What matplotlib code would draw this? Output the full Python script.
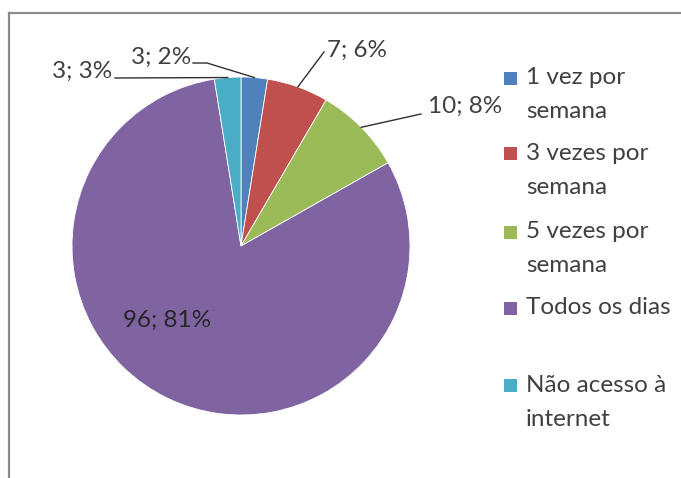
import matplotlib.pyplot as plt
from matplotlib.lines import Line2D
from matplotlib.patches import Rectangle
import numpy as np

# values
categories = ["1 vez por\nsemana", "3 vezes por\nsemana", "5 vezes por\nsemana",
              "Todos os dias", "Não acesso à\ninternet"]
counts = [3, 7, 10, 96, 3]
percent_labels = ["2%", "6%", "8%", "81%", "3%"]
colors = ["#4F81BD", "#C0504D", "#9BBB59", "#8064A2", "#4BACC6"]

W, H = 681, 478
cx, cy, r = 241, 246, 169   # pie centre and radius in pixels (from top-left)
text_color = "#404040"
fsize = 17.5
plt.rcParams['font.family'] = ['Lato', 'DejaVu Sans']

def px(x, y):
    # pixel position (top-left origin) -> data coords of the pie axes
    return (x - cx) / r, (cy - y) / r

fig = plt.figure(figsize=(W / 100, H / 100), dpi=100)
ax = fig.add_axes([0, 0, 1, 1])
wedges, _ = ax.pie(counts, colors=colors, startangle=90, counterclock=False,
                   wedgeprops=dict(edgecolor="white", linewidth=0.6))
ax.set_xlim(-cx / r, (W - cx) / r)
ax.set_ylim((cy - H) / r, cy / r)
ax.set_aspect('auto')
ax.axis('off')

# data labels: text anchor (px), alignment, leader line elbow points (px)
label_pos = [(191, 57, 'right', [(193, 63), (207, 63)]),
             (327, 50, 'left', [(324, 52)]),
             (428, 106, 'left', [(421, 114)]),
             (167, 320, 'center', None),
             (112, 71, 'right', [(115, 78)])]

for w, c, p, (tx, ty, ha, elbow) in zip(wedges, counts, percent_labels, label_pos):
    ax.text(*px(tx, ty), f"{c}; {p}", ha=ha, va='center', fontsize=fsize,
            color="#262626" if elbow is None else text_color)
    if elbow is None:
        continue
    mid = np.deg2rad((w.theta1 + w.theta2) / 2)
    pts = [px(*e) for e in elbow] + [(np.cos(mid), np.sin(mid))]
    xs, ys = zip(*pts)
    ax.plot(xs, ys, color="#303030", lw=1.0)

# legend drawn by hand so the wrapped lines sit like the original
entry_y = [78, 153, 232, 308, 385]
for lab, col, y0 in zip(categories, colors, entry_y):
    sx, sy = px(504, y0 - 6)
    ax.add_patch(Rectangle((sx, sy - 13 / r), 13 / r, 13 / r, color=col, lw=0))
    for i, line in enumerate(lab.split("\n")):
        ax.text(*px(526, y0 + i * 34), line, ha='left', va='center',
                fontsize=fsize, color=text_color, clip_on=False)

# chart area border (only top and left edges are visible)
fig.add_artist(Line2D([9 / W, 1], [1 - 13 / H, 1 - 13 / H], color="#8a8a8a", lw=1.6))
fig.add_artist(Line2D([9 / W, 9 / W], [0, 1 - 13 / H], color="#8a8a8a", lw=1.6))

fig.savefig("out.png", dpi=100, facecolor="white")
